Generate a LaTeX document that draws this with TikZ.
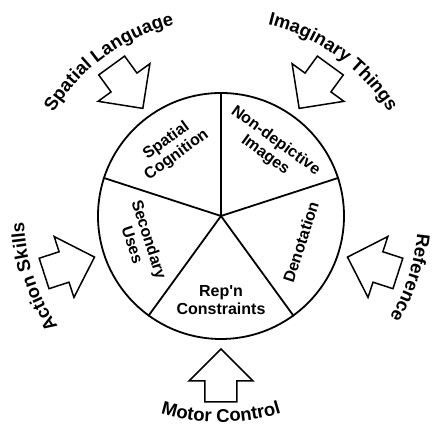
\documentclass[tikz,border=0pt]{standalone}
\usepackage{fontspec}
\setmainfont{Liberation Sans}
\usepackage{tikz}
\usetikzlibrary{decorations.text,calc}

\newcommand{\sectorfont}{\fontsize{16}{17.5}\selectfont\bfseries}
\newcommand{\outerfont}{\fontsize{18.5}{20}\selectfont\bfseries}

\tikzset{
  wheel/.style={line width=1.8pt},
  blockarrow/.style={line width=1.5pt, line join=miter},
  sector/.style={font=\sectorfont, align=center, inner sep=0pt},
  cwlabel/.style={decorate, decoration={text along path, text align=center, text={|\outerfont|#1}}},
  ccwlabel/.style={decorate, decoration={text along path, text align=center, text={|\outerfont|#1}}}
}

\begin{document}
\begin{tikzpicture}[x=1pt,y=1pt]
  \def\R{123}
  \def\rin{84}
  \def\rtxt{197}
  \def\rbot{206}
  \useasboundingbox (-221,-211) rectangle (211,216);
  % the wheel
  \node[circle, minimum size=2*\R, wheel, draw, inner sep=0pt] (wheel) at (0,0) {};
  \foreach \a in {90,18,-54,-126,162}{
    \draw[wheel] (wheel.center) -- (wheel.\a);
  }
  % sector labels
  \node[sector, rotate=36]  (cognition)   at (126:\rin) {Spatial\\Cognition};
  \node[sector, rotate=-36] (images)      at (54:\rin)  {Non-depictive\\Images};
  \node[sector, rotate=72]  (denotation)  at (-18:\rin) {Denotation};
  \node[sector]             (constraints) at (-90:\rin) {Rep\textquotesingle n\\Constraints};
  \node[sector, rotate=-72] (uses)        at (198:\rin) {Secondary\\Uses};
  % block arrows pointing in
  \foreach \a in {126,54,-18,-90,198}{
    \draw[blockarrow, rotate=\a] (133,0) -- (165,32) -- (165,16) -- (186,16)
      -- (186,-16) -- (165,-16) -- (165,-32) -- cycle;
  }
  % outer labels
  \path[cwlabel={Spatial Language}] (156:\rtxt) arc[start angle=156, end angle=96, radius=\rtxt];
  \path[cwlabel={Imaginary Things}] (84:\rtxt) arc[start angle=84, end angle=24, radius=\rtxt];
  \path[cwlabel={Reference}] (12:\rtxt) arc[start angle=12, end angle=-48, radius=\rtxt];
  \path[cwlabel={Action Skills}] (228:\rtxt) arc[start angle=228, end angle=168, radius=\rtxt];
  \path[ccwlabel={Motor Control}] (-120:\rbot) arc[start angle=-120, end angle=-60, radius=\rbot];
\end{tikzpicture}
\end{document}
